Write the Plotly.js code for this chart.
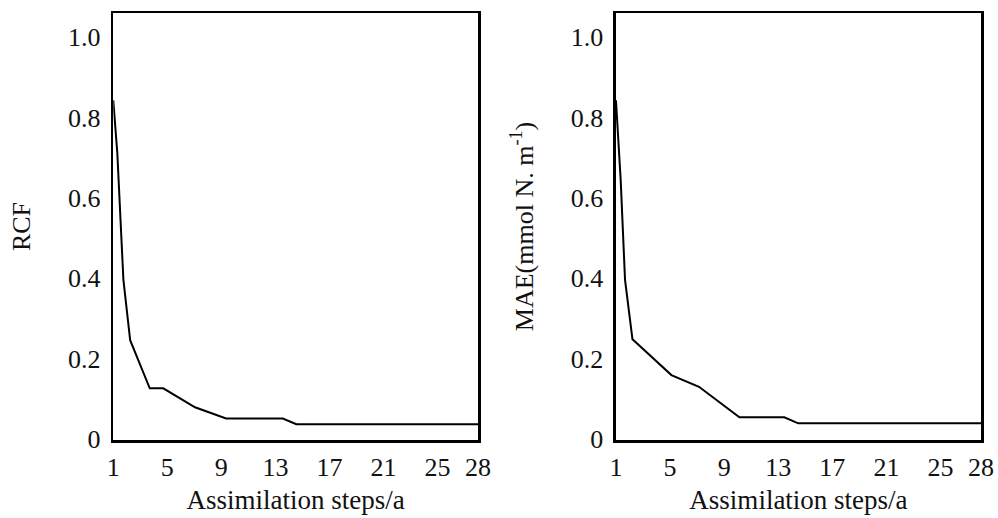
<!DOCTYPE html>
<html>
<head>
<meta charset="utf-8">
<script src="https://cdn.plot.ly/plotly-3.0.1.min.js"></script>
<style>html,body{margin:0;padding:0;background:#fff;}#chart{width:998px;height:518px;}</style>
</head>
<body>
<div id="chart"></div>
<script>
// Left panel: RCF vs assimilation steps
var stepsRCF = [1, 1.3, 1.75, 2.25, 3.7, 4.7, 7.05, 9.35, 13.55, 14.55, 28];
var rcf      = [0.843, 0.711, 0.396, 0.246, 0.126, 0.126, 0.079, 0.051, 0.051, 0.037, 0.037];
// Right panel: MAE vs assimilation steps
var stepsMAE = [1, 1.35, 1.67, 2.22, 5.1, 7.14, 10.13, 13.45, 14.48, 28];
var mae      = [0.843, 0.644, 0.396, 0.248, 0.159, 0.130, 0.054, 0.054, 0.039, 0.039];

var xTickVals = [1, 5, 9, 13, 17, 21, 25, 28];
var xTickText = ['1', '5', '9', '13', '17', '21', '25', '28'];
var yTickVals = [0, 0.2, 0.4, 0.6, 0.8, 1.0];
var yTickText = ['0', '0.2', '0.4', '0.6', '0.8', '1.0'];

var xTitle = 'Assimilation steps/a';
var yTitleLeft = 'RCF';
var yTitleRight = 'MAE(mmol N. m<sup>-1</sup>)';

var FONT = '"Liberation Serif", "Times New Roman", serif';

var traces = [
  {x: stepsRCF, y: rcf, xaxis: 'x', yaxis: 'y', mode: 'lines', type: 'scatter',
   line: {color: '#000', width: 2}, hoverinfo: 'skip', showlegend: false},
  {x: stepsMAE, y: mae, xaxis: 'x2', yaxis: 'y2', mode: 'lines', type: 'scatter',
   line: {color: '#000', width: 2}, hoverinfo: 'skip', showlegend: false}
];

function xa(domain, anchor) {
  return {
    domain: domain, anchor: anchor, range: [1, 28],
    tickmode: 'array', tickvals: xTickVals, ticktext: xTickText,
    ticks: '', ticklabelstandoff: 2,
    showline: true, linecolor: '#000', linewidth: 2.5, mirror: true,
    showgrid: false, zeroline: false,
    tickfont: {family: FONT, size: 26, color: '#111'},
    title: {text: xTitle, font: {family: FONT, size: 27, color: '#111'}, standoff: 10}
  };
}
function ya(anchor, title) {
  return {
    anchor: anchor, domain: [0, 1], range: [-0.0025, 1.06],
    tickmode: 'array', tickvals: yTickVals, ticktext: yTickText,
    ticks: '', ticklabelstandoff: 5,
    showline: true, linecolor: '#000', linewidth: 2.5, mirror: true,
    showgrid: false, zeroline: false,
    tickfont: {family: FONT, size: 26, color: '#111'},
    title: {text: title, font: {family: FONT, size: 26, color: '#111'}, standoff: 30}
  };
}

var layout = {
  width: 998, height: 518,
  margin: {l: 0, r: 0, t: 13, b: 78},
  paper_bgcolor: '#fff', plot_bgcolor: '#fff',
  showlegend: false,
  font: {family: FONT, color: '#111'},
  xaxis: xa([0.1135, 0.479], 'y'),
  yaxis: ya('x', yTitleLeft),
  xaxis2: xa([0.6172, 0.983], 'y2'),
  yaxis2: ya('x2', yTitleRight)
};

Plotly.newPlot('chart', traces, layout, {staticPlot: true, displayModeBar: false});
</script>
</body>
</html>
